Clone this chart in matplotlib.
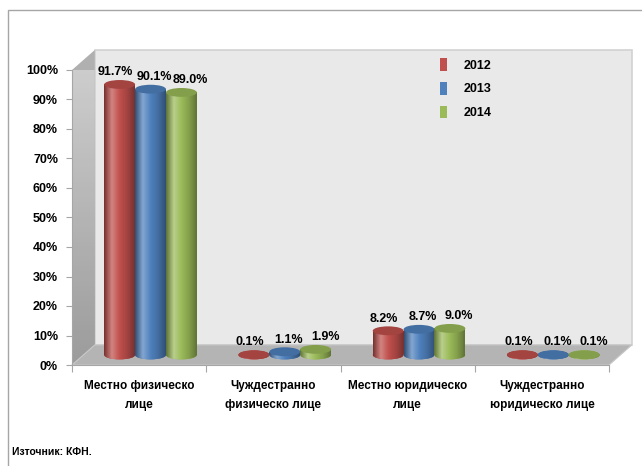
import matplotlib
matplotlib.use("Agg")
import matplotlib.pyplot as plt
import numpy as np
from matplotlib.colors import LinearSegmentedColormap, to_rgb
from matplotlib.patches import Ellipse, Patch, Polygon, Rectangle

plt.rcParams["font.family"] = ["Liberation Sans", "DejaVu Sans"]
plt.rcParams["font.weight"] = "bold"

categories = ["Местно физическо\nлице", "Чуждестранно\nфизическо лице",
              "Местно юридическо\nлице", "Чуждестранно\nюридическо лице"]
years = ["2012", "2013", "2014"]
values_2012 = [91.7, 0.1, 8.2, 0.1]
values_2013 = [90.1, 1.1, 8.7, 0.1]
values_2014 = [89.0, 1.9, 9.0, 0.1]
yticks = list(range(0, 101, 10))

series = [values_2012, values_2013, values_2014]
colors = ["#c0504d", "#4f81bd", "#9bbb59"]
label_dx = [-0.03, 0.03, 0.07]  # data labels sit a bit apart, as in the original

fig = plt.figure(figsize=(6.42, 4.66), dpi=100)
ax = fig.add_axes([72 / 642, 101 / 466, 537 / 642, 295 / 466])
ax.set_xlim(-0.5, 3.5)
ax.set_ylim(0, 100)

dx, dy = 0.17, 6.8  # depth shift of the back wall
n = len(categories)


def cyl_cmap(c):
    r = np.array(to_rgb(c))
    dark = r * 0.62
    light = r + (1 - r) * 0.3
    return LinearSegmentedColormap.from_list("c", [dark, light, r, r * 0.85, dark])


def shade(patch, extent, cmap, z):
    im = ax.imshow(np.linspace(0, 1, 64).reshape(1, -1), cmap=cmap, extent=extent,
                   aspect="auto", interpolation="bilinear", zorder=z)
    im.set_clip_path(patch)


# walls and floor
wall = Rectangle((-0.5 + dx, dy), n, 100, facecolor="#e9e9e9", edgecolor="#d2d2d2",
                 lw=1.2, zorder=0, clip_on=False)
ax.add_patch(wall)
side = Polygon([(-0.5, 0), (-0.5 + dx, dy), (-0.5 + dx, 100 + dy), (-0.5, 100)],
               facecolor="#b0b0b0", edgecolor="none", zorder=0.5, clip_on=False)
ax.add_patch(side)
im = ax.imshow(np.linspace(0, 1, 64).reshape(-1, 1), cmap=LinearSegmentedColormap.from_list(
    "g", ["#d0d0d0", "#9c9c9c"]), extent=(-0.5, -0.5 + dx, 0, 100 + dy),
    aspect="auto", zorder=0.6)
im.set_clip_path(side)
floor = Polygon([(-0.5, 0), (3.5, 0), (3.5 + dx, dy), (-0.5 + dx, dy)],
                facecolor="#b4b4b4", edgecolor="#c8c8c8", lw=0.8, zorder=1, clip_on=False)
ax.add_patch(floor)

# cylinders
w = 0.23
eh = 3.0
base = dy / 2
for k, (vals, c) in enumerate(zip(series, colors)):
    cmap = cyl_cmap(c)
    top_c = np.array(to_rgb(c)) * 0.85
    for i, v in enumerate(vals):
        cx = i + (k - 1) * w + dx / 2
        z = 2 + k * 0.1
        be = Ellipse((cx, base), w, eh, facecolor=c, edgecolor="none", zorder=z)
        ax.add_patch(be)
        shade(be, (cx - w / 2, cx + w / 2, base - eh, base + eh), cmap, z + 0.01)
        body = Rectangle((cx - w / 2, base), w, v, facecolor=c, edgecolor="none", zorder=z + 0.02)
        ax.add_patch(body)
        shade(body, (cx - w / 2, cx + w / 2, base, base + v), cmap, z + 0.03)
        ax.add_patch(Ellipse((cx, base + v), w, eh, facecolor=top_c, edgecolor="none",
                             zorder=z + 0.04))
        ax.text(cx + label_dx[k], base + v + eh / 2 + 0.6, f"{v:.1f}%", ha="center",
                va="bottom", fontsize=9, zorder=5)

ax.set_xlim(-0.5, 3.5)
ax.set_ylim(0, 100)

for s in ["top", "right"]:
    ax.spines[s].set_visible(False)
ax.spines["left"].set_color("#a6a6a6")
ax.spines["bottom"].set_color("#a6a6a6")
ax.set_facecolor("none")

ax.set_yticks(yticks)
ax.set_yticklabels([f"{t}%" for t in yticks])
ax.tick_params(axis="y", length=4, color="#a6a6a6", labelsize=9, pad=6)
ax.set_xticks(np.arange(-0.5, n, 1.0))
ax.set_xticklabels([])
ax.set_xticks(range(n), minor=True)
ax.set_xticklabels(categories, minor=True, fontsize=8.5, linespacing=1.7)
ax.tick_params(axis="x", which="major", length=5, color="#a6a6a6", direction="out")
ax.tick_params(axis="x", which="minor", length=0, pad=11)

handles = [Patch(facecolor=c, edgecolor="none") for c in colors]
ax.legend(handles, years, loc="upper left", bbox_to_anchor=(434 / 642, 1 - 52 / 466),
          bbox_transform=fig.transFigure, frameon=False, fontsize=9, handlelength=0.5,
          handleheight=1.2, handletextpad=1.4, labelspacing=0.8, borderpad=0)

fig.add_artist(Rectangle((8 / 642, -0.1), 1.1, 1.1 - 10 / 466, transform=fig.transFigure,
                         fill=False, edgecolor="#a6a6a6", lw=1))
fig.text(12 / 642, 1 - 452 / 466, "Източник: КФН.", fontsize=7.5, va="center")

fig.savefig("out.png", dpi=100)
